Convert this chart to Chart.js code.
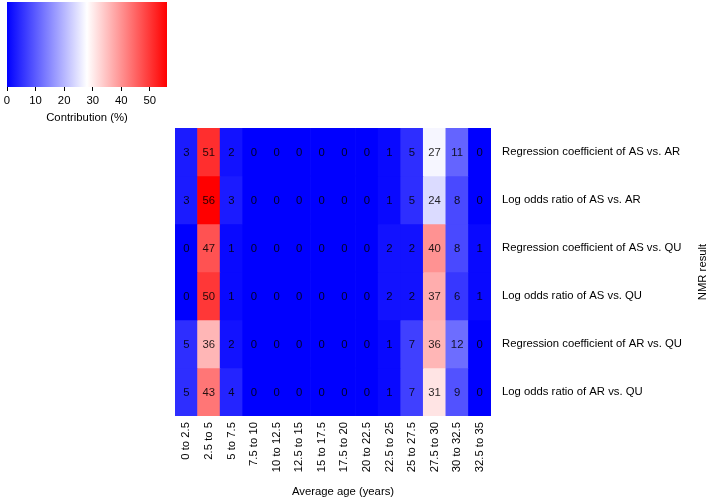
<!DOCTYPE html>
<html>
<head>
<meta charset="utf-8">
<script src="https://cdn.jsdelivr.net/npm/chart.js@4.4.1/dist/chart.umd.min.js"></script>
<style>
  html, body { margin: 0; padding: 0; background: #fff; }
  #wrap { position: relative; width: 709px; height: 500px; }
  #main, #bar { position: absolute; left: 0; top: 0; }
</style>
</head>
<body>
<div id="wrap">
  <canvas id="main" width="709" height="500"></canvas>
  <canvas id="bar" width="180" height="126"></canvas>
</div>
<script>
const ageGroups = [
  "0 to 2.5", "2.5 to 5", "5 to 7.5", "7.5 to 10", "10 to 12.5", "12.5 to 15",
  "15 to 17.5", "17.5 to 20", "20 to 22.5", "22.5 to 25", "25 to 27.5",
  "27.5 to 30", "30 to 32.5", "32.5 to 35"
];

const nmrResults = [
  "Regression coefficient of AS vs. AR",
  "Log odds ratio of AS vs. AR",
  "Regression coefficient of AS vs. QU",
  "Log odds ratio of AS vs. QU",
  "Regression coefficient of AR vs. QU",
  "Log odds ratio of AR vs. QU"
];

// contribution (%) per age group, one array per NMR result
const regAsAr = [3, 51, 2, 0, 0, 0, 0, 0, 0, 1, 5, 27, 11, 0];
const logAsAr = [3, 56, 3, 0, 0, 0, 0, 0, 0, 1, 5, 24, 8, 0];
const regAsQu = [0, 47, 1, 0, 0, 0, 0, 0, 0, 2, 2, 40, 8, 1];
const logAsQu = [0, 50, 1, 0, 0, 0, 0, 0, 0, 2, 2, 37, 6, 1];
const regArQu = [5, 36, 2, 0, 0, 0, 0, 0, 0, 1, 7, 36, 12, 0];
const logArQu = [5, 43, 4, 0, 0, 0, 0, 0, 0, 1, 7, 31, 9, 0];

const colorTicks = [0, 10, 20, 30, 40, 50];
const colorMax = 56;

const rows = [regAsAr, logAsAr, regAsQu, logAsQu, regArQu, logArQu];
const FONT = "'Liberation Sans', Arial, sans-serif";
const FS = 11.3;

// blue -> white -> red
function colorFor(v) {
  const mid = colorMax / 2;
  if (v <= mid) {
    const t = v / mid;
    const c = Math.round(255 * t);
    return `rgb(${c},${c},255)`;
  }
  const t = Math.min(1, (v - mid) / mid);
  const c = Math.round(255 * (1 - t));
  return `rgb(255,${c},${c})`;
}

const cellText = {
  id: "cellText",
  afterDatasetsDraw(chart) {
    const ctx = chart.ctx;
    ctx.save();
    ctx.font = `${FS}px ${FONT}`;
    ctx.fillStyle = "rgba(0,0,0,0.85)";
    ctx.textAlign = "center";
    ctx.textBaseline = "middle";
    chart.data.datasets.forEach((ds, i) => {
      chart.getDatasetMeta(i).data.forEach((el, j) => {
        ctx.fillText(String(ds.values[j]), el.x, (el.y + el.base) / 2 + 1);
      });
    });
    ctx.restore();
  }
};

// axis titles (right one reads bottom-to-top)
const axisTitles = {
  id: "axisTitles",
  afterDraw(chart) {
    const { ctx, chartArea } = chart;
    ctx.save();
    ctx.font = `${FS}px ${FONT}`;
    ctx.fillStyle = "#000";
    ctx.textAlign = "center";
    ctx.textBaseline = "middle";
    ctx.fillText("Average age (years)", (chartArea.left + chartArea.right) / 2 + 10, 492);
    ctx.translate(703, (chartArea.top + chartArea.bottom) / 2);
    ctx.rotate(-Math.PI / 2);
    ctx.fillText("NMR result", 0, 0);
    ctx.restore();
  }
};

new Chart(document.getElementById("main"), {
  type: "bar",
  data: {
    labels: ageGroups,
    datasets: rows.map((vals, i) => ({
      label: nmrResults[i],
      values: vals,
      data: vals.map(() => [rows.length - 1 - i, rows.length - i]),
      backgroundColor: vals.map(colorFor),
      borderWidth: 0,
      borderSkipped: false,
      barPercentage: 1,
      categoryPercentage: 1,
      grouped: false
    }))
  },
  options: {
    responsive: false,
    animation: false,
    layout: { padding: { left: 175, top: 128, right: 0, bottom: 0 } },
    plugins: { legend: { display: false }, tooltip: { enabled: false } },
    scales: {
      x: {
        grid: { display: false, drawTicks: false },
        border: { display: false },
        ticks: {
          autoSkip: false, minRotation: 90, maxRotation: 90, padding: 6,
          color: "#000", font: { family: FONT, size: FS }
        },
        afterFit(scale) { scale.height = 84; }
      },
      y: {
        position: "right",
        min: 0, max: rows.length,
        grid: { display: false, drawTicks: false },
        border: { display: false },
        afterBuildTicks(scale) {
          scale.ticks = nmrResults.map((_, k) => ({ value: k + 0.5 }));
        },
        ticks: {
          padding: 11, color: "#000", font: { family: FONT, size: FS },
          callback: (v, idx) => nmrResults[nmrResults.length - 1 - idx]
        },
        afterFit(scale) { scale.width = 218; }
      }
    }
  },
  plugins: [cellText, axisTitles]
});

// colour key
const gradientFill = {
  id: "gradientFill",
  beforeDatasetsDraw(chart) {
    const { ctx, chartArea, scales } = chart;
    const x0 = scales.x.getPixelForValue(0);
    const x1 = scales.x.getPixelForValue(colorMax);
    const g = ctx.createLinearGradient(x0, 0, x1, 0);
    g.addColorStop(0, colorFor(0));
    g.addColorStop(0.5, colorFor(colorMax / 2));
    g.addColorStop(1, colorFor(colorMax));
    ctx.save();
    ctx.fillStyle = g;
    ctx.fillRect(x0, chartArea.top, x1 - x0, chartArea.bottom - chartArea.top);
    ctx.restore();
  }
};

new Chart(document.getElementById("bar"), {
  type: "scatter",
  data: { datasets: [{ data: [] }] },
  options: {
    responsive: false,
    animation: false,
    layout: { padding: { left: 7, top: 2, right: 13, bottom: 0 } },
    plugins: { legend: { display: false }, tooltip: { enabled: false } },
    scales: {
      x: {
        type: "linear", min: 0, max: colorMax,
        afterBuildTicks(scale) {
          scale.ticks = colorTicks.map(v => ({ value: v }));
        },
        grid: { display: true, drawOnChartArea: false, drawTicks: true, tickLength: 4, color: "#000" },
        border: { display: false },
        ticks: { padding: 3, color: "#000", font: { family: FONT, size: FS } },
        title: {
          display: true, text: "Contribution (%)", color: "#000",
          font: { family: FONT, size: FS }, padding: { top: 0, bottom: 1 }
        },
        afterFit(scale) { scale.height = 39; }
      },
      y: { display: false, min: 0, max: 1 }
    }
  },
  plugins: [gradientFill]
});
</script>
</body>
</html>
